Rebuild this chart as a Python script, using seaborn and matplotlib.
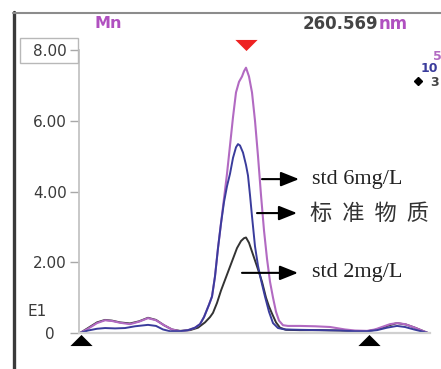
import matplotlib
matplotlib.use("Agg")
import matplotlib.pyplot as plt
import seaborn as sns
import pandas as pd
from matplotlib.lines import Line2D
from matplotlib.patches import Rectangle

# ---------------- data (scan point index, emission intensity) ----------------
scan_5 = [1, 9, 18, 26, 33, 41, 51, 60, 69, 77, 85, 93, 101, 109, 116, 121, 125, 130, 133, 136,
          139, 142, 145, 148, 151, 154, 157, 160, 163, 165, 167, 170, 173, 176, 179, 182, 185, 188, 191, 194,
          197, 200, 204, 209, 221, 236, 251, 266, 276, 288, 296, 304, 311, 318, 326, 334, 342, 349]
int_5 = [0, 0.12, 0.28, 0.36, 0.34, 0.29, 0.25, 0.32, 0.42, 0.36, 0.22, 0.10, 0.05, 0.08, 0.15, 0.25, 0.45, 0.8, 1.03, 1.6,
         2.4, 3.1, 3.8, 4.5, 5.3, 6.1, 6.8, 7.1, 7.25, 7.4, 7.5, 7.25, 6.8, 6.0, 5.0, 3.9, 2.9, 2.1, 1.45, 1.0,
         0.6, 0.35, 0.22, 0.2, 0.2, 0.19, 0.17, 0.1, 0.07, 0.06, 0.1, 0.18, 0.25, 0.28, 0.25, 0.17, 0.08, 0.0]

scan_10 = [1, 9, 18, 26, 36, 46, 56, 69, 77, 84, 91, 101, 109, 116, 121, 125, 130, 133, 136, 139,
           142, 145, 148, 151, 154, 157, 159, 161, 164, 167, 169, 171, 173, 176, 179, 182, 186, 190, 194, 199,
           206, 221, 241, 261, 276, 288, 298, 308, 318, 326, 335, 349]
int_10 = [0, 0.07, 0.12, 0.14, 0.13, 0.14, 0.19, 0.23, 0.2, 0.1, 0.05, 0.05, 0.08, 0.15, 0.25, 0.45, 0.8, 1.03, 1.6, 2.4,
          3.1, 3.7, 4.15, 4.5, 4.95, 5.25, 5.34, 5.3, 5.1, 4.75, 4.45, 3.9, 3.3, 2.45, 1.9, 1.5, 1.03, 0.6, 0.28, 0.14,
          0.1, 0.09, 0.08, 0.07, 0.05, 0.05, 0.08, 0.15, 0.2, 0.17, 0.1, 0.0]

scan_3 = [1, 9, 18, 26, 33, 41, 51, 60, 69, 77, 85, 93, 101, 111, 119, 126, 131, 134, 138, 142,
          146, 150, 154, 158, 162, 165, 167, 170, 173, 176, 179, 183, 187, 190, 193, 197, 201, 207, 221, 241,
          261, 276, 288, 298, 308, 318, 327, 336, 349]
int_3 = [0, 0.14, 0.3, 0.37, 0.35, 0.3, 0.27, 0.33, 0.43, 0.37, 0.22, 0.1, 0.06, 0.08, 0.15, 0.3, 0.45, 0.57, 0.85, 1.2,
         1.5, 1.8, 2.1, 2.4, 2.6, 2.68, 2.7, 2.55, 2.3, 2.05, 1.8, 1.45, 1.0, 0.75, 0.55, 0.3, 0.15, 0.09, 0.08, 0.08,
         0.07, 0.05, 0.05, 0.1, 0.2, 0.28, 0.24, 0.15, 0.0]

y_ticks = [0, 2, 4, 6, 8]
y_tick_labels = ["0", "2.00", "4.00", "6.00", "8.00"]
peak_pos = 167          # peak marker position (scan point)
peak_marker_y = 8.14
baseline_pos = [2, 290] # background correction points
element = "Mn"
wavelength = "260.569"
labels = ["std 6mg/L", "标  准  物  质", "std 2mg/L"]

C5 = "#b26ac2"
C10 = "#3a3c9c"
C3 = "#333333"

# ---------------- figure ----------------
sns.set_style("white")
plt.rcParams["font.family"] = ["DejaVu Sans"]

W, H = 441, 369
fig = plt.figure(figsize=(W / 100, H / 100), dpi=100)
fig.patch.set_facecolor("white")

PX_PER_UNIT = 35.375
ax = fig.add_axes([79 / W, 0, (W - 79) / W, (H - 12) / H])
ax.set_xlim(0, W - 79)
ax.set_ylim(-(H - 333) / PX_PER_UNIT, (333 - 12) / PX_PER_UNIT)
ax.set_facecolor("white")

df3 = pd.DataFrame({"x": scan_3, "y": int_3})
df5 = pd.DataFrame({"x": scan_5, "y": int_5})
df10 = pd.DataFrame({"x": scan_10, "y": int_10})
sns.lineplot(data=df3, x="x", y="y", ax=ax, color=C3, lw=1.4, estimator=None, sort=False)
sns.lineplot(data=df5, x="x", y="y", ax=ax, color=C5, lw=1.5, estimator=None, sort=False)
sns.lineplot(data=df10, x="x", y="y", ax=ax, color=C10, lw=1.4, estimator=None, sort=False)

ax.set_xlabel("")
ax.set_ylabel("")
for s in ["top", "right"]:
    ax.spines[s].set_visible(False)
ax.spines["left"].set_position(("data", 0))
ax.spines["left"].set_bounds(0, 8)
ax.spines["left"].set_color("#c4c4c4")
ax.spines["left"].set_linewidth(1.3)
ax.spines["bottom"].set_position(("data", 0))
ax.spines["bottom"].set_bounds(0, 351)
ax.spines["bottom"].set_color("#d0d0d0")
ax.spines["bottom"].set_linewidth(1.6)
ax.set_xticks([])
ax.set_yticks(y_ticks)
ax.set_yticklabels(y_tick_labels, fontsize=11, color="#3a3a3a")
ax.tick_params(axis="y", direction="out", length=6.5, width=1, color="#a8a8a8", pad=14.5, left=True)
for lab in ax.get_yticklabels():
    lab.set_horizontalalignment("center")

# markers
tri_down = [(-1, 0.5), (1, 0.5), (0, -0.5)]
tri_up = [(-1, -0.5), (1, -0.5), (0, 0.5)]
ax.scatter([peak_pos], [peak_marker_y], marker=tri_down, s=16 ** 2, color="#ee2222",
           linewidths=0, clip_on=False, zorder=5)
ax.scatter(baseline_pos, [-0.2, -0.2], marker=tri_up, s=16 ** 2, color="black",
           linewidths=0, clip_on=False, zorder=5)

# arrows + annotations
arrows = [((183, 4.35), (220, 4.35)), ((178, 3.39), (218, 3.39)), ((163, 1.70), (219, 1.70))]
text_y = [4.35, 3.39, 1.70]
for (start, end) in arrows:
    ax.annotate("", xy=end, xytext=start,
                arrowprops=dict(arrowstyle="-|>,head_length=0.55,head_width=0.22", color="black",
                                lw=1.5, mutation_scale=20, shrinkA=0, shrinkB=0))
ax.text(233, text_y[0], labels[0], fontsize=16, family="Liberation Serif", va="center", ha="left", color="#222222")
ax.text(231, text_y[1], labels[1], fontsize=16, family=["Noto Sans CJK SC", "DejaVu Sans"], va="center",
        ha="left", color="#333333")
ax.text(233, text_y[2], labels[2], fontsize=16, family="Liberation Serif", va="center", ha="left", color="#222222")

# frame lines
fig.add_artist(Line2D([13.5 / W, 13.5 / W], [0, (H - 12) / H], color="#3a3a3a", lw=2.4,
                      transform=fig.transFigure))
fig.add_artist(Line2D([13 / W, 1], [(H - 13) / H, (H - 13) / H], color="#8c8c8c", lw=1.5,
                      transform=fig.transFigure))
fig.add_artist(Rectangle((20 / W, (H - 63) / H), 58 / W, 25 / H, fill=False, edgecolor="#b8b8b8",
                         lw=1.0, transform=fig.transFigure))

# header texts
fig.text(95 / W, (H - 24) / H, element, fontsize=11.5, color="#b050c0", fontweight="semibold",
         va="center", ha="left")
t_wl = fig.text(303 / W, (H - 24) / H, wavelength, fontsize=12, color="#444444", fontweight="semibold",
                va="center", ha="left")
fig.canvas.draw()
bb = t_wl.get_window_extent(renderer=fig.canvas.get_renderer())
fig.text(bb.x1 / W, (H - 24) / H, "nm", fontsize=12, color="#b050c0", fontweight="semibold",
         va="center", ha="left")

fig.text(37 / W, (H - 312) / H, "E1", fontsize=11, color="#3a3a3a", va="center", ha="center")

# right-side legend fragments (cut by the border)
fig.text(433 / W, (H - 57) / H, "5", fontsize=9, color=C5, fontweight="bold", va="center", ha="left")
fig.text(421 / W, (H - 69) / H, "10", fontsize=9, color=C10, fontweight="bold", va="center", ha="left")
fig.text(430 / W, (H - 82) / H, "3", fontsize=9, color="#444444", fontweight="bold", va="center", ha="left")
fig.add_artist(Line2D([418 / W], [(H - 81) / H], marker="D", markersize=4.5, color="black",
                      transform=fig.transFigure))

fig.savefig("out.png", dpi=100)
